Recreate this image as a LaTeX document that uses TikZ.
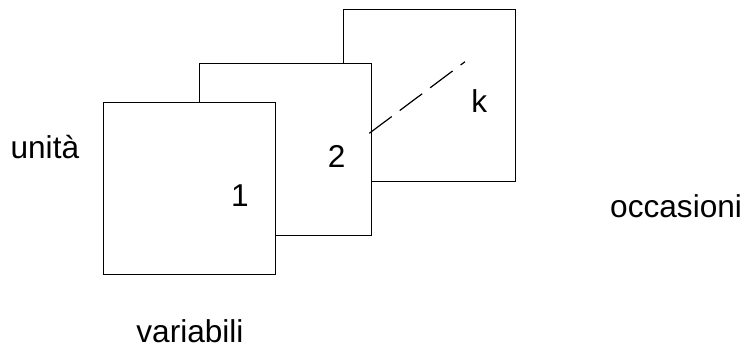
\documentclass[tikz,border=0pt]{standalone}
\usepackage{fontspec}
\setmainfont{Liberation Sans}
\begin{document}
\begin{tikzpicture}[x=0.75pt, y=-0.75pt, font=\fontsize{23.7}{28}\selectfont, line width=0.9pt]
	\def\lato{129pt}  % lato dei fogli
	\tikzset{foglio/.style={draw, fill=white, minimum size=\lato, inner sep=0pt},
		etic/.style={anchor=base west, inner sep=0pt}}
	\useasboundingbox (0,0) rectangle (745,347);
	% fogli, dal fondo
	\node[foglio] (sqk) at (429.3,95.3) {};
	\node[foglio] (sq2) at (285.5,149.3) {};
	\node[foglio] (sq1) at (189.3,188.3) {};
	\node[etic] (lab1) at (230.6,206.7) {1};
	\node[etic] (lab2) at (327.3,167.7) {2};
	\node[etic] (labk) at (470.7,112.7) {k};
	\coordinate (dashstart) at (369.3,133.3);
	\coordinate (dashend) at (465,61.7);
	\draw[dash pattern=on 21pt off 7.5pt] (dashstart)--(dashend);
	\node[etic] (unita) at (10,158.3) {unità};
	\node[etic] (occasioni) at (609.6,217.7) {occasioni};
	\node[etic] (variabili) at (135.8,342.3) {variabili};
\end{tikzpicture}
\end{document}
